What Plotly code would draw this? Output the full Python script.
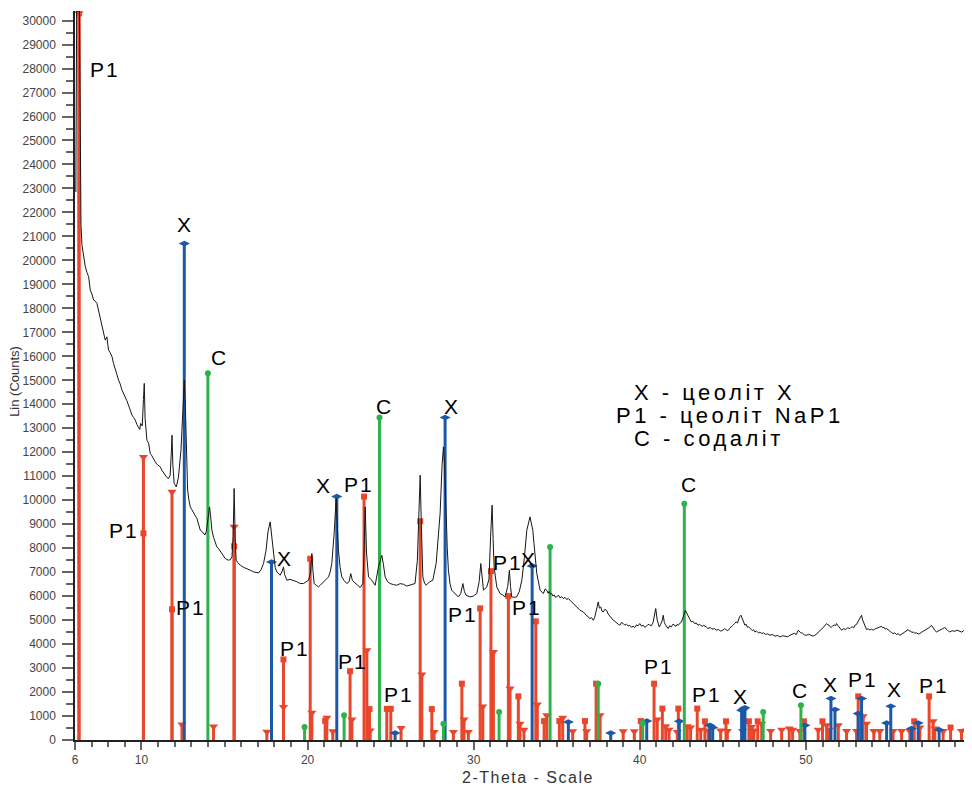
import plotly.graph_objects as go

# ---------------- measured XRD scan (2-theta, counts) ----------------
two_theta = [6.05, 6.10, 6.27, 6.36, 6.42, 6.52, 6.62, 6.72, 6.82, 6.92, 7.02, 7.12, 7.22, 7.32, 7.42, 7.52, 7.62, 7.72, 7.82, 7.92,
             8.02, 8.12, 8.23, 8.32, 8.42, 8.52, 8.62, 8.72, 8.83, 8.93, 9.03, 9.12, 9.22, 9.32, 9.43, 9.53, 9.63, 9.73, 9.83, 9.90,
             9.95, 10.05, 10.12, 10.17, 10.22, 10.29, 10.33, 10.43, 10.53, 10.63, 10.73, 10.83, 10.93, 11.03, 11.13, 11.23, 11.33, 11.43, 11.53, 11.63,
             11.73, 11.80, 11.84, 11.89, 11.97, 12.10, 12.23, 12.38, 12.50, 12.58, 12.64, 12.70, 12.78, 12.86, 12.94, 13.04, 13.14, 13.24, 13.34, 13.44,
             13.54, 13.64, 13.74, 13.82, 13.90, 14.00, 14.10, 14.17, 14.24, 14.34, 14.44, 14.54, 14.64, 14.74, 14.85, 14.95, 15.04, 15.14, 15.24, 15.35,
             15.45, 15.52, 15.58, 15.64, 15.70, 15.82, 15.95, 16.15, 16.35, 16.55, 16.75, 16.90, 17.05, 17.20, 17.35, 17.50, 17.62, 17.75, 17.85, 17.95,
             18.05, 18.15, 18.25, 18.35, 18.48, 18.55, 18.62, 18.76, 18.95, 19.15, 19.35, 19.56, 19.76, 19.90, 20.06, 20.18, 20.26, 20.33, 20.40, 20.53,
             20.66, 20.76, 20.86, 20.96, 21.06, 21.16, 21.26, 21.36, 21.46, 21.60, 21.72, 21.79, 21.86, 21.96, 22.06, 22.20, 22.36, 22.50, 22.60, 22.70,
             22.87, 23.02, 23.17, 23.33, 23.40, 23.47, 23.55, 23.67, 23.87, 24.07, 24.27, 24.47, 24.57, 24.67, 24.82, 24.97, 25.17, 25.37, 25.57, 25.77,
             25.97, 26.17, 26.32, 26.47, 26.61, 26.70, 26.78, 26.85, 26.94, 27.04, 27.14, 27.34, 27.54, 27.74, 27.86, 27.98, 28.10, 28.18, 28.26, 28.34,
             28.41, 28.48, 28.58, 28.68, 28.88, 29.08, 29.22, 29.35, 29.44, 29.54, 29.78, 29.98, 30.19, 30.33, 30.43, 30.51, 30.59, 30.79, 30.92, 31.02,
             31.11, 31.17, 31.23, 31.39, 31.59, 31.74, 31.89, 32.05, 32.15, 32.22, 32.29, 32.44, 32.59, 32.75, 32.90, 33.05, 33.20, 33.39, 33.56, 33.63,
             33.70, 33.80,
             34.00, 34.10, 34.20, 34.30, 34.40, 34.48, 34.55, 34.62, 34.70, 34.78,
             34.85, 34.92, 35.00, 35.10, 35.20, 35.30, 35.40, 35.50, 35.60, 35.70,
             35.80, 35.90, 36.00, 36.10, 36.20, 36.30, 36.40, 36.50, 36.60, 36.70,
             36.80, 36.90, 37.00, 37.10, 37.20, 37.28, 37.35, 37.42, 37.50, 37.57,
             37.65, 37.72, 37.80, 37.90, 38.00, 38.10, 38.20, 38.30, 38.40, 38.50,
             38.60, 38.70, 38.80, 38.90, 39.00, 39.10, 39.20, 39.30, 39.40, 39.50,
             39.60, 39.70, 39.80, 39.90, 40.00, 40.10, 40.20, 40.30, 40.40, 40.50,
             40.60, 40.70, 40.80, 40.88, 40.96, 41.05, 41.10, 41.17, 41.24, 41.30,
             41.36, 41.41, 41.48, 41.55, 41.63, 41.71, 41.80, 41.90, 42.00, 42.10,
             42.18, 42.25, 42.32, 42.39, 42.48, 42.55, 42.65, 42.75, 42.82, 42.90,
             43.00, 43.10, 43.20, 43.30, 43.40, 43.50, 43.60, 43.75, 43.85, 44.00,
             44.10, 44.25, 44.35, 44.50, 44.60, 44.75, 44.85, 45.00, 45.10, 45.20,
             45.30, 45.40, 45.50, 45.60, 45.70, 45.80, 45.88, 45.95, 46.02, 46.09,
             46.15, 46.20, 46.27, 46.33, 46.40, 46.48, 46.55, 46.63, 46.70, 46.78,
             46.85, 46.93, 47.03, 47.14, 47.24, 47.34, 47.46, 47.58, 47.70, 47.83,
             47.98, 48.14, 48.30, 48.44, 48.60, 48.74, 48.90, 49.04, 49.17, 49.30,
             49.42, 49.54, 49.67, 49.80, 49.92, 50.04, 50.17, 50.30, 50.42, 50.54,
             50.62, 50.70, 50.77, 50.84, 50.95, 51.05, 51.15, 51.25, 51.33, 51.40,
             51.48, 51.55, 51.62, 51.70, 51.78, 51.85, 51.92, 52.00, 52.08, 52.15,
             52.28, 52.40, 52.52, 52.65, 52.72, 52.80, 52.88, 52.95, 53.05, 53.15,
             53.25, 53.35, 53.42, 53.50, 53.58, 53.65, 53.75, 53.85, 53.95, 54.05,
             54.18, 54.30, 54.42, 54.55, 54.62, 54.70, 54.78, 54.86, 54.95, 55.05,
             55.15, 55.25, 55.35, 55.45, 55.55, 55.66, 55.78, 55.90, 56.03, 56.16,
             56.23, 56.30, 56.38, 56.46, 56.56, 56.66, 56.76, 56.86, 56.98, 57.10,
             57.22, 57.35, 57.45, 57.56, 57.63, 57.70, 57.78, 57.86, 57.98, 58.10,
             58.23, 58.36, 58.43, 58.50, 58.58, 58.66, 58.80, 58.95, 59.10, 59.26,
             59.38, 59.50, 59.63, 59.77, 59.88, 60.00]
counts = [22850, 30400, 30400, 21500, 20640, 20100, 19730, 19500, 19320, 18760, 18600, 18345, 18300, 18207, 17900, 17650, 17400, 17090, 16676, 16813,
          16260, 16150, 15980, 15700, 15424, 15250, 15007, 14850, 14590, 14450, 14243, 14150, 13965, 13750, 13547, 13450, 13338, 13150, 13060, 12950,
          13200, 13100, 14200, 14870, 13400, 12795, 12500, 12380, 11948, 11850, 11700, 11598, 11500, 11450, 11390, 11250, 11150, 11044, 10950, 10905,
          11044, 12000, 12712, 11500, 10697, 10555, 10972, 12086, 14000, 15007, 14000, 12086, 10420, 10000, 9721, 9600, 9445, 9350, 9237, 9000,
          8749, 8700, 8611, 8550, 8678, 9200, 9721, 9300, 8749, 8450, 8194, 8050, 7985, 7880, 7777, 7650, 7568, 7530, 7497, 7520,
          7635, 8500, 10488, 8500, 7497, 7380, 7289, 7200, 7150, 7080, 7010, 6990, 6968, 7100, 7359, 7900, 8700, 9095, 8500, 7635,
          7200, 7010, 6920, 6871, 7050, 7218, 6900, 6663, 6700, 6663, 6600, 6525, 6525, 6590, 6663, 7000, 7777, 7000, 6525, 6450,
          6385, 6450, 6525, 6580, 6663, 6720, 6800, 7000, 7359, 8600, 10071, 9000, 7914, 7200, 6800, 6650, 6525, 6600, 6942, 6650,
          6525, 6450, 6358, 6525, 7800, 9721, 7800, 6800, 6663, 6454, 7218, 7705, 7300, 6800, 6600, 6525, 6480, 6454, 6520, 6496,
          6420, 6454, 6500, 6525, 7497, 9500, 11044, 9000, 6800, 6550, 6454, 6592, 6663, 7359, 8300, 9445, 11500, 12224, 11300, 9166,
          8000, 7080, 6500, 6245, 6108, 5966, 6100, 6525, 6200, 6037, 5966, 6000, 6108, 6600, 7359, 6700, 6245, 6385, 6700, 8500,
          9792, 8400, 7218, 6385, 6108, 6050, 5966, 6400, 7080, 6400, 5966, 5950, 5966, 6200, 6663, 7600, 8749, 9304, 8749, 8200,
          7777, 6942,
          6245, 6150, 6108, 6300, 6245, 6120, 6200, 6080, 6108, 6000,
          6050, 5950, 5966, 6040, 5930, 5980, 5898, 5950, 5860, 5900,
          5828, 5760, 5700, 5620, 5549, 5480, 5411, 5380, 5340, 5260,
          5200, 5150, 5065, 5100, 4994, 5100, 5300, 5600, 5757, 5500,
          5550, 5380, 5340, 5450, 5411, 5250, 5150, 5050, 4994, 4950,
          4880, 4830, 4785, 4900, 4860, 4790, 4827, 4760, 4780, 4700,
          4744, 4690, 4800, 4760, 4856, 4750, 4790, 4700, 4744, 4820,
          4800, 4760, 4900, 5150, 5482, 5000, 4850, 4714, 4800, 4900,
          5000, 5203, 4900, 4800, 4700, 4648, 4760, 4720, 4830, 4785,
          4740, 4820, 4780, 4856, 4900, 5000, 5200, 5411, 5300, 5150,
          5050, 4923, 4950, 4850, 4880, 4785, 4820, 4740, 4780, 4714,
          4650, 4690, 4620, 4648, 4580, 4610, 4540, 4577, 4640, 4600,
          4560, 4648, 4700, 4780, 4850, 4923, 4880, 5050, 5150, 5203,
          5100, 5000, 4900, 4785, 4830, 4700, 4720, 4648, 4600, 4560,
          4600, 4506, 4540, 4470, 4500, 4439, 4470, 4400, 4430, 4368,
          4400, 4330, 4360, 4297, 4350, 4330, 4300, 4368, 4420, 4450,
          4400, 4577, 4480, 4450, 4380, 4368, 4410, 4380, 4330, 4368,
          4400, 4450, 4520, 4577, 4620, 4700, 4780, 4856, 4800, 4780,
          4700, 4714, 4760, 4800, 4760, 4856, 4780, 4700, 4620, 4577,
          4640, 4610, 4680, 4648, 4700, 4720, 4680, 4785, 4820, 4950,
          5100, 5203, 5000, 4850, 4700, 4606, 4640, 4590, 4620, 4577,
          4640, 4660, 4700, 4744, 4680, 4700, 4620, 4648, 4580, 4540,
          4480, 4439, 4470, 4400, 4430, 4368, 4420, 4480, 4560, 4606,
          4540, 4550, 4480, 4506, 4450, 4470, 4420, 4439, 4500, 4550,
          4600, 4650, 4700, 4785, 4700, 4640, 4560, 4506, 4560, 4600,
          4640, 4689, 4620, 4600, 4540, 4506, 4560, 4530, 4580, 4548,
          4500, 4560, 4520, 4577, 4620, 4648]

# ---------------- reference stick patterns ----------------
# P1 (zeolite NaP1) - lines marked with squares
p1_sq_pos = [6.24, 10.12, 11.84, 15.58, 18.55, 20.16, 21.06, 22.56, 23.40, 23.73, 24.77, 25.01, 26.78, 27.48, 29.29, 30.39, 31.04,
             32.09, 32.69, 33.74, 34.24, 35.16, 36.70, 37.37, 40.06, 40.86, 41.36, 42.32, 43.46, 43.92, 45.19, 46.57, 47.10, 49.88,
             51.00, 53.15, 56.52, 57.42, 58.71]
p1_sq_int = [30300, 8620, 5450, 8080, 3360, 7560, 800, 2870, 10150, 1290, 1300, 1300, 9120, 1290, 2350, 5490, 7040,
             6000, 1820, 4950, 790, 790, 790, 2350, 790, 2350, 1310, 1310, 1310, 780, 780, 780, 780, 780,
             780, 1820, 780, 1820, 520]
# P1 - lines marked with down triangles
p1_tri_pos = [6.24, 10.12, 11.84, 12.44, 14.34, 15.58, 17.55, 18.55, 20.26, 21.16, 21.52, 22.67, 23.57, 23.77, 25.63, 26.88, 27.62,
              28.78, 29.42, 29.68, 30.55, 31.19, 32.19, 32.79, 33.03, 33.83, 34.40, 35.36, 35.96, 36.80, 37.61, 39.00, 39.67, 41.05,
              41.56, 41.76, 42.26, 42.86, 43.06, 43.67, 44.12, 44.87, 45.27, 46.19, 46.73, 46.87, 47.34, 47.88, 48.54, 49.00, 49.20,
              49.64, 50.74, 51.25, 51.40, 51.95, 52.45, 53.05, 53.45, 53.65, 54.09, 54.45, 55.25, 55.76, 56.26, 56.86, 57.66, 57.76,
              58.26, 59.37, 59.67]
p1_tri_int = [30300, 11800, 10350, 650, 560, 8890, 340, 1380, 1140, 930, 360, 860, 3740, 400, 500, 2730, 330,
              330, 850, 330, 1400, 3670, 2150, 680, 430, 1480, 1030, 930, 360, 360, 1030, 360, 360, 850,
              570, 430, 330, 570, 520, 430, 400, 400, 380, 380, 540, 400, 680, 380, 430, 480, 430,
              380, 430, 610, 430, 610, 380, 380, 990, 680, 380, 380, 380, 380, 380, 520, 780, 480,
              380, 380, 400]
# X (zeolite X)
x_pos = [12.58, 17.83, 21.76, 25.27, 28.28, 33.52, 35.70, 38.25, 40.42, 42.38, 44.22, 44.39, 46.13, 46.23, 46.33, 49.94,
         51.51, 51.75, 53.15, 53.35, 54.86, 55.11, 56.36, 56.76, 58.02, 59.87]
x_int = [20700, 7420, 10150, 290, 13450, 7260, 750, 290, 790, 780, 610, 520, 1240, 1290, 1340, 610,
         1730, 1270, 1100, 1730, 710, 1410, 480, 710, 430, 290]
# C (sodalite)
c_pos = [14.00, 19.82, 22.20, 24.33, 28.18, 31.53, 34.60, 37.50, 40.18, 42.68, 47.43, 49.70]
c_int = [15290, 540, 1030, 13450, 680, 1170, 8050, 2350, 710, 9850, 1170, 1450]

# ---------------- peak labels ----------------
label_text = ["P1", "X", "C", "P1", "P1", "X", "X", "P1", "C", "X", "P1", "P1", "P1", "P1", "P1", "P1", "X",
              "C", "P1", "P1", "X", "C", "X", "P1", "X", "P1"]
label_x = [7.82, 12.64, 14.68, 8.94, 13.00, 18.62, 21.00, 23.11, 24.61, 28.70, 19.26, 22.75, 25.52, 29.36, 33.21, 32.04, 33.36,
           43.00, 41.13, 44.07, 46.12, 49.67, 51.51, 53.43, 55.35, 57.70]
label_y = [27980, 21515, 15966, 8749, 5537, 7581, 10626, 10668, 13922, 13922, 3825, 3283, 1906, 5244, 5537, 7393, 7539,
           10668, 3075, 1906, 1823, 2073, 2324, 2532, 2115, 2282]

legend_lines = ["X - цеоліт X", "P1 - цеоліт NaP1", "C - содаліт"]

x_tick_vals = [6, 10, 15, 20, 25, 30, 35, 40, 45, 50, 55, 60]
x_tick_text = ["6", "10", "", "20", "", "30", "", "40", "", "50", "", "60"]
y_tick_vals = list(range(0, 30001, 1000))

RED = "#E8472C"
BLUE = "#1B58A8"
GREEN = "#2DB34A"
FONT = "Liberation Sans, Arial, sans-serif"


def sticks(pos, inten):
    sx, sy = [], []
    for p, v in zip(pos, inten):
        sx += [p, p, None]
        sy += [0, v, None]
    return sx, sy


fig = go.Figure()

series = [
    (p1_sq_pos, p1_sq_int, RED, "square", 6),
    (p1_tri_pos, p1_tri_int, RED, "triangle-down", 8),
    (x_pos, x_int, BLUE, "diamond-wide", 8),
    (c_pos, c_int, GREEN, "circle", 6),
]
for pos, inten, col, sym, size in series:
    sx, sy = sticks(pos, inten)
    fig.add_trace(go.Scatter(x=sx, y=sy, mode="lines", line=dict(color=col, width=3),
                             hoverinfo="skip", showlegend=False))
    fig.add_trace(go.Scatter(x=pos, y=inten, mode="markers",
                             marker=dict(symbol=sym, size=size, color=col, line=dict(width=0)),
                             showlegend=False))

fig.add_trace(go.Scatter(x=two_theta, y=counts, mode="lines",
                         line=dict(color="#161616", width=1), showlegend=False))

annotations = []
for t, lx, ly in zip(label_text, label_x, label_y):
    annotations.append(dict(x=lx, y=ly, xref="x", yref="y", showarrow=False,
                            text='<span style="letter-spacing:2px">%s</span>' % t,
                            font=dict(family=FONT, size=21, color="#000"),
                            xanchor="center", yanchor="middle"))

legend_x = [0.621, 0.601, 0.621]
legend_y = [0.476, 0.4455, 0.414]
for txt, lx, ly in zip(legend_lines, legend_x, legend_y):
    annotations.append(dict(x=lx, y=ly, xref="paper", yref="paper", showarrow=False,
                            text='<span style="letter-spacing:3.5px">%s</span>' % txt,
                            font=dict(family=FONT, size=22, color="#000"),
                            xanchor="left", yanchor="middle"))

annotations.append(dict(x=0.505, y=-0.0508, xref="paper", yref="paper", showarrow=False,
                        text='<span style="letter-spacing:1.5px">2-Theta - Scale</span>',
                        font=dict(family=FONT, size=16, color="#333"),
                        xanchor="center", yanchor="middle"))
annotations.append(dict(x=-0.067, y=0.4925, xref="paper", yref="paper", showarrow=False,
                        text="Lin (Counts)", textangle=-90, font=dict(family=FONT, size=13, color="#333"),
                        xanchor="center", yanchor="middle"))

# the page body adds an 8 px offset, so the figure is sized to fill the rest of the window
fig.update_layout(
    template="none",
    width=964, height=779,
    margin=dict(l=67, r=0, t=3, b=47),
    paper_bgcolor="white", plot_bgcolor="white",
    showlegend=False,
    annotations=annotations,
)
fig.update_xaxes(
    range=[6, 60], tickmode="array", tickvals=x_tick_vals, ticktext=x_tick_text,
    ticks="outside", ticklen=8, tickwidth=1.5, tickcolor="#666", ticklabeloverflow="allow",
    minor=dict(tickmode="array", tickvals=list(range(6, 61)), ticks="outside", ticklen=5,
               tickwidth=1.5, tickcolor="#666", showgrid=False),
    showline=True, linecolor="#222", linewidth=1.5, mirror=False,
    showgrid=False, zeroline=False, automargin=False,
    tickfont=dict(family=FONT, size=12, color="#444"),
)
fig.update_yaxes(
    range=[0, 30400], tickmode="array", tickvals=y_tick_vals, ticktext=[str(v) for v in y_tick_vals],
    ticks="outside", ticklen=11, tickwidth=1.5, tickcolor="#666", ticklabelstandoff=4,
    minor=dict(tickmode="array", tickvals=list(range(500, 30400, 1000)), ticks="outside", ticklen=7,
               tickwidth=1.5, tickcolor="#666", showgrid=False),
    showline=True, linecolor="#222", linewidth=1.5,
    showgrid=False, zeroline=False, automargin=False,
    tickfont=dict(family=FONT, size=12, color="#444"),
)

fig.write_html("out.html")
